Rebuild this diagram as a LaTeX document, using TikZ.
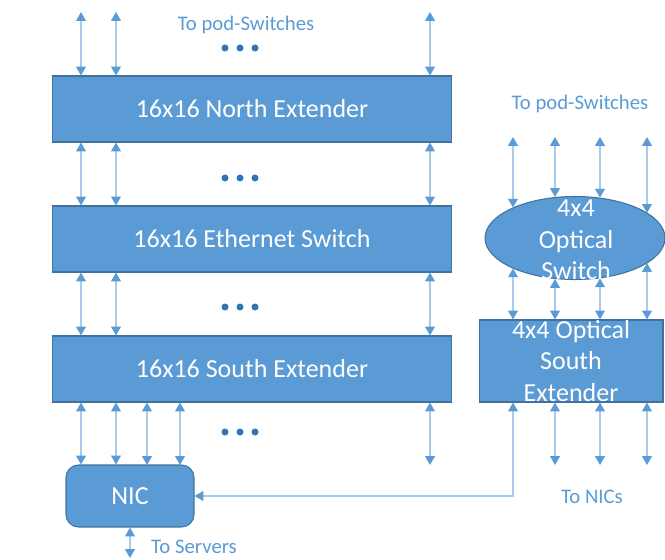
\documentclass[tikz,border=0pt]{standalone}
\usepackage{fontspec}
\setmainfont{Carlito}
\usetikzlibrary{arrows.meta,shapes.geometric}

\definecolor{boxblue}{HTML}{5B9BD5}
\definecolor{edgeblue}{HTML}{41719C}
\definecolor{wireblue}{HTML}{A9CBEA}
\definecolor{tipblue}{HTML}{5B9BD5}
\definecolor{dotblue}{HTML}{2E75B6}

\tikzset{
    block/.style={draw=edgeblue, fill=boxblue, line width=0.6pt, inner sep=0pt},
    boxtext/.style={text=white, font=\fontsize{14.8}{18}\selectfont, align=center},
    note/.style={text=boxblue, font=\fontsize{11.8}{14}\selectfont},
    link/.style={draw=wireblue, line width=0.9pt,
        arrows={Triangle[length=5pt,width=5.5pt,color=tipblue]-Triangle[length=5pt,width=5.5pt,color=tipblue]}}
}

\begin{document}
\begin{tikzpicture}[x=0.02cm, y=-0.02cm]
    \useasboundingbox (0,0) rectangle (665,560);

    % electrical stack
    \node[block, minimum width=8cm, minimum height=1.32cm] (north) at (252,109) {};
    \node[boxtext] (northText) at (north) {16x16 North Extender};
    \node[block, minimum width=8cm, minimum height=1.32cm] (eth) at (252,239) {};
    \node[boxtext] (ethText) at (eth) {16x16 Ethernet Switch};
    \node[block, minimum width=8cm, minimum height=1.32cm] (south) at (252,369) {};
    \node[boxtext] (southText) at (south) {16x16 South Extender};

    \node[block, rounded corners=0.25cm, minimum width=2.56cm, minimum height=1.24cm] (nic) at (130,496) {};
    \node[boxtext] (nicText) at (nic) {NIC};

    % optical side
    \node[block, ellipse, minimum width=3.6cm, minimum height=1.66cm] (osw) at (575,238) {};
    \node[boxtext] (oswText) at (576,240) {4x4\\Optical\\Switch};
    \node[block, minimum width=3.68cm, minimum height=1.64cm] (ose) at (571,361) {};
    \node[boxtext] (oseText) at (571,361) {4x4 Optical\\South\\Extender};

    % labels
    \node[note] (podLeft) at (246,25) {To pod-Switches};
    \node[note] (podRight) at (580,104) {To pod-Switches};
    \node[note] (toNics) at (592,497) {To NICs};
    \node[note] (toServers) at (194,547) {To Servers};

    % free ends
    \coordinate (up1) at (81,12);
    \coordinate (up2) at (116,12);
    \coordinate (up3) at (430,12);
    \coordinate (port3) at (147,465);
    \coordinate (port4) at (180,465);
    \coordinate (down3) at (430,465);
    \coordinate (srv) at (130,558);

    \coordinate (opt1) at (513,137);
    \coordinate (opt2) at (555,137);
    \coordinate (opt3) at (600,137);
    \coordinate (opt4) at (647,137);
    \coordinate (low2) at (555,465);
    \coordinate (low3) at (600,465);
    \coordinate (low4) at (647,465);

    % links of the stack
    \draw[link] (up1) -- (up1 |- north.north);
    \draw[link] (up2) -- (up2 |- north.north);
    \draw[link] (up3) -- (up3 |- north.north);

    \draw[link] (north.south -| up1) -- (eth.north -| up1);
    \draw[link] (north.south -| up2) -- (eth.north -| up2);
    \draw[link] (north.south -| up3) -- (eth.north -| up3);

    \draw[link] (eth.south -| up1) -- (south.north -| up1);
    \draw[link] (eth.south -| up2) -- (south.north -| up2);
    \draw[link] (eth.south -| up3) -- (south.north -| up3);

    \draw[link] (south.south -| up1) -- (nic.north -| up1);
    \draw[link] (south.south -| up2) -- (nic.north -| up2);
    \draw[link] (south.south -| port3) -- (port3);
    \draw[link] (south.south -| port4) -- (port4);
    \draw[link] (south.south -| down3) -- (down3);

    \draw[link] (nic.south) -- (srv);

    % links of the optical path
    \draw[link] (opt1) -- (opt1 |- osw.154);
    \draw[link] (opt2) -- (opt2 |- osw.116);
    \draw[link] (opt3) -- (opt3 |- osw.58);
    \draw[link] (opt4) -- (opt4 |- osw.19);

    \draw[link] (opt1 |- osw.-154) -- (ose.north -| opt1);
    \draw[link] (opt2 |- osw.-116) -- (ose.north -| opt2);
    \draw[link] (opt3 |- osw.-58) -- (ose.north -| opt3);
    \draw[link] (opt4 |- osw.-19) -- (ose.north -| opt4);

    \draw[link] (ose.south -| low2) -- (low2);
    \draw[link] (ose.south -| low3) -- (low3);
    \draw[link] (ose.south -| low4) -- (low4);

    \draw[link] (ose.south -| opt1) |- (nic.east);

    % gaps in the port rows
    \foreach \y in {48,178,307,432}
        \foreach \x in {225,240,255}
            \fill[dotblue] (\x,\y) circle (0.07cm);
\end{tikzpicture}
\end{document}
